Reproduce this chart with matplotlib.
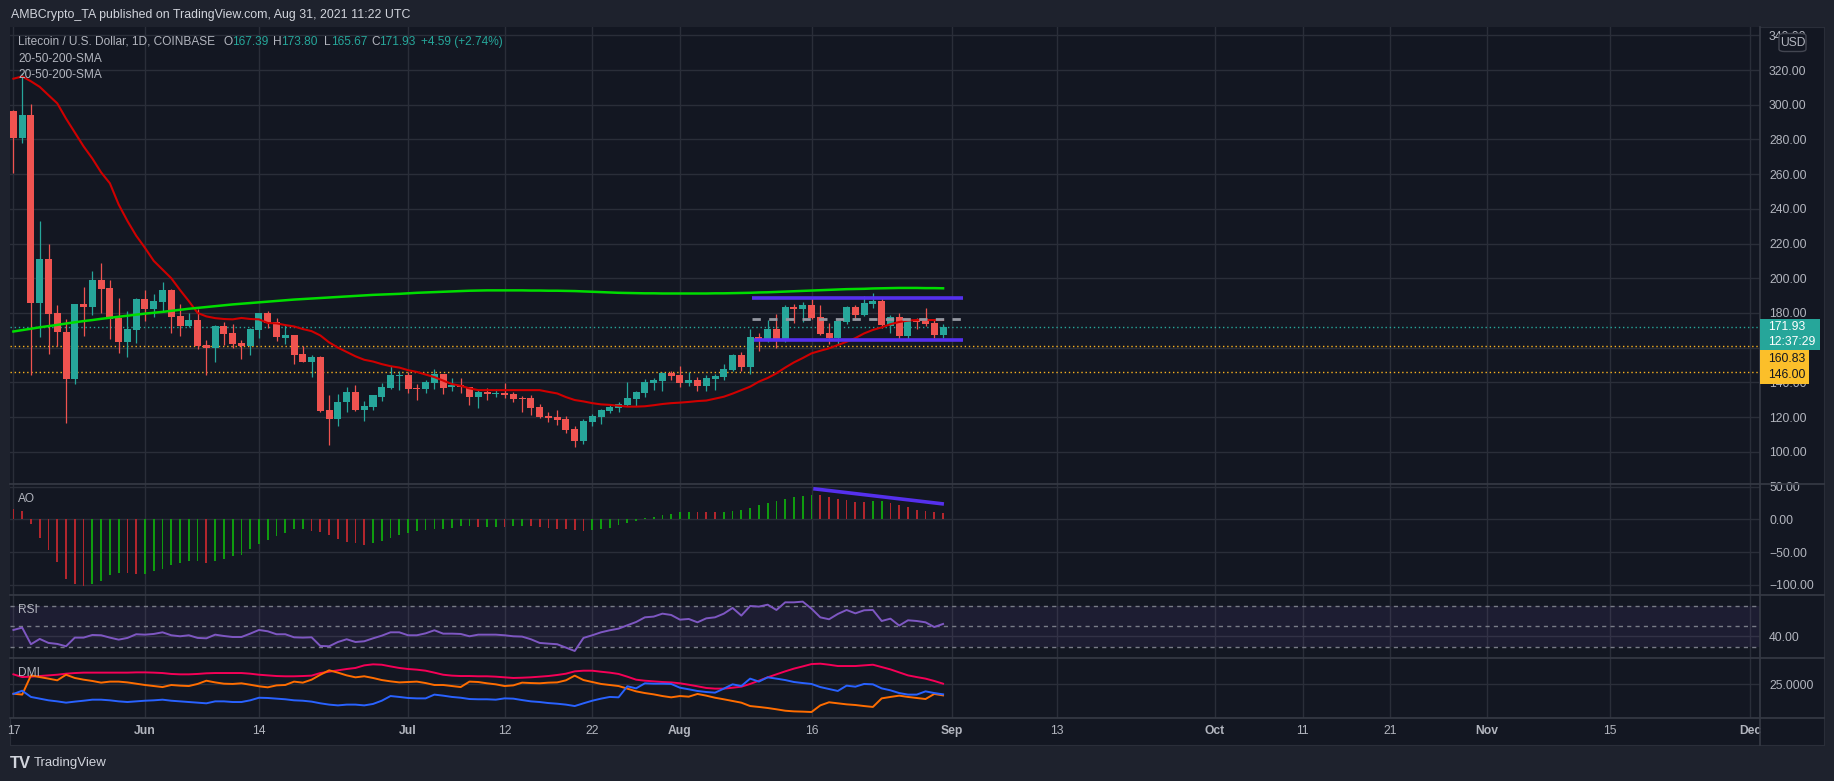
import matplotlib
matplotlib.use('Agg')
import matplotlib.pyplot as plt
import matplotlib.dates as mdates
from matplotlib.patches import Rectangle, FancyBboxPatch
from matplotlib.lines import Line2D
from matplotlib import font_manager as fm
import numpy as np
import pandas as pd

# ---------------- data ----------------
start_date = '2021-05-17'
opens = [296.4, 281.0, 294.1, 185.9, 211.1, 180.0, 169.0, 142.1, 185.1, 183.4,
         199.0, 194.3, 177.3, 163.4, 170.3, 188.0, 182.4, 186.5, 193.2, 178.2,
         172.6, 175.9, 161.5, 160.0, 172.5, 168.4, 162.8, 161.1, 170.3, 180.0,
         174.8, 165.7, 167.1, 156.3, 151.9, 154.8, 124.0, 119.0, 128.8, 134.6,
         124.2, 126.0, 131.7, 136.9, 143.8, 144.2, 137.0, 136.3, 139.8, 144.8,
         137.1, 138.4, 137.3, 131.7, 134.4, 133.4, 133.8, 133.2, 131.0, 131.0,
         125.8, 120.6, 120.0, 118.8, 113.1, 106.3, 117.3, 120.2, 123.6, 125.4,
         127.1, 130.6, 134.0, 139.8, 140.9, 145.4, 144.2, 139.8, 141.3, 138.1,
         142.1, 143.2, 147.1, 155.7, 148.8, 166.1, 164.6, 170.7, 165.1, 183.4,
         182.2, 184.5, 177.6, 168.4, 165.7, 174.8, 183.4, 178.8, 185.1, 186.8,
         172.4, 177.6, 166.7, 175.9, 175.3, 174.2, 167.39]
highs = [297.0, 318.3, 300.4, 233.0, 219.7, 184.4, 176.5, 185.1, 194.9, 204.2,
         208.8, 199.0, 188.6, 181.1, 188.6, 193.2, 190.9, 197.8, 193.8, 185.1,
         180.0, 182.4, 164.6, 173.0, 174.8, 173.6, 164.6, 171.1, 180.0, 181.1,
         177.1, 173.0, 167.1, 161.1, 155.9, 155.4, 132.9, 133.4, 137.5, 138.6,
         129.4, 132.9, 139.8, 149.6, 146.5, 146.1, 138.8, 141.3, 147.7, 144.8,
         142.5, 142.5, 137.3, 135.5, 136.7, 136.1, 139.6, 134.4, 132.1, 132.7,
         127.5, 122.9, 124.0, 120.4, 114.8, 118.8, 121.7, 124.6, 127.5, 128.8,
         140.2, 135.0, 141.9, 142.5, 145.9, 146.5, 149.4, 145.9, 143.0, 144.2,
         144.8, 150.5, 156.3, 157.5, 170.7, 168.4, 175.9, 179.4, 184.5, 185.1,
         186.3, 189.2, 184.5, 174.2, 175.9, 184.0, 184.5, 189.7, 191.5, 188.6,
         178.8, 179.9, 176.5, 177.1, 182.8, 176.5, 173.80]
lows = [260.8, 278.1, 144.4, 166.3, 156.5, 161.1, 116.7, 139.2, 166.9, 179.0,
        180.1, 165.1, 157.1, 154.8, 162.8, 175.5, 177.8, 181.1, 168.6, 166.9,
        172.1, 159.4, 144.4, 151.9, 161.7, 160.0, 153.6, 155.9, 165.7, 171.5,
        164.0, 162.3, 150.7, 151.9, 143.2, 123.1, 104.1, 115.0, 123.1, 123.6,
        117.9, 124.2, 129.4, 136.3, 135.5, 133.6, 129.8, 134.0, 136.3, 133.4,
        135.2, 134.0, 127.1, 125.4, 130.0, 131.7, 131.1, 128.8, 123.1, 121.3,
        119.6, 117.3, 115.6, 111.0, 102.9, 104.6, 115.0, 116.1, 122.5, 123.1,
        126.5, 126.5, 131.7, 135.7, 135.2, 141.3, 137.5, 138.1, 135.2, 135.2,
        135.7, 141.3, 146.5, 146.7, 144.8, 158.2, 163.4, 159.9, 163.4, 174.2,
        174.8, 176.5, 167.3, 162.1, 162.1, 173.6, 175.9, 178.2, 182.8, 171.3,
        168.4, 164.4, 164.4, 170.7, 172.4, 165.5, 165.67]
closes = [281.0, 294.1, 185.9, 211.1, 179.6, 169.2, 142.1, 185.1, 183.4, 199.0,
          194.0, 176.7, 163.4, 170.7, 188.0, 182.4, 186.9, 193.2, 177.8, 172.6,
          175.9, 161.1, 160.0, 172.5, 168.0, 162.3, 161.1, 170.7, 180.0, 174.4,
          166.3, 167.1, 155.9, 151.9, 154.8, 123.6, 119.0, 128.8, 134.6, 124.2,
          126.5, 132.9, 137.5, 144.4, 144.5, 136.3, 136.3, 140.2, 144.8, 136.9,
          138.4, 137.1, 131.7, 134.4, 133.4, 133.7, 132.9, 130.6, 130.6, 125.4,
          120.2, 119.6, 118.5, 112.7, 106.3, 117.7, 120.6, 124.0, 125.8, 127.7,
          131.0, 134.4, 140.2, 141.3, 145.4, 143.6, 139.6, 141.3, 138.1, 142.5,
          143.6, 147.7, 155.7, 148.8, 166.1, 164.6, 170.7, 165.1, 183.4, 182.2,
          184.5, 177.0, 167.8, 165.7, 175.3, 183.4, 178.8, 185.7, 186.8, 173.0,
          177.6, 166.7, 175.9, 174.8, 173.6, 167.34, 171.93]

sma_fast = [315.0, 316.3, 313.5, 310.3, 305.5, 300.8, 292.0, 284.0, 276.0, 269.0,
            261.0, 254.7, 242.5, 233.0, 224.5, 217.5, 210.0, 205.0, 200.0, 193.2,
            186.8, 180.0, 178.0, 177.0, 176.5, 176.3, 177.1, 176.5, 176.3, 174.2,
            174.0, 173.0, 172.2, 170.7, 169.5, 167.0, 163.0, 160.0, 157.5, 155.0,
            153.0, 152.0, 150.5, 149.3, 148.5, 147.0, 146.0, 144.5, 143.0, 141.0,
            139.0, 138.0, 136.5, 135.5, 135.5, 135.5, 135.5, 135.5, 135.5, 135.5,
            135.5, 134.5, 133.6, 131.5, 129.8, 129.0, 128.0, 127.3, 127.0, 126.5,
            126.0, 126.0, 126.2, 126.8, 127.5, 128.0, 128.3, 128.7, 129.2, 129.5,
            130.6, 131.7, 133.5, 135.5, 137.5, 140.4, 142.5, 145.2, 148.5, 151.5,
            154.0, 156.7, 158.2, 159.6, 161.5, 163.4, 165.5, 168.2, 170.2, 171.7,
            173.5, 174.8, 175.6, 175.9, 175.9, 175.9, 175.9]
sma_slow = [169.3, 170.1, 170.9, 171.7, 172.4, 173.1, 173.9, 174.6, 175.3, 175.9,
            176.6, 177.2, 177.8, 178.4, 179.0, 179.6, 180.1, 180.6, 181.2, 181.8,
            182.4, 182.9, 183.4, 183.9, 184.4, 184.9, 185.3, 185.7, 186.1, 186.5,
            186.9, 187.3, 187.7, 188.0, 188.3, 188.6, 188.9, 189.2, 189.5, 189.8,
            190.1, 190.4, 190.6, 190.8, 191.0, 191.3, 191.6, 191.8, 192.0, 192.2,
            192.4, 192.6, 192.8, 192.9, 193.0, 193.0, 193.0, 193.0, 193.0, 192.9,
            192.9, 192.8, 192.8, 192.7, 192.6, 192.4, 192.2, 192.0, 191.8, 191.6,
            191.5, 191.4, 191.3, 191.3, 191.2, 191.2, 191.2, 191.2, 191.2, 191.2,
            191.3, 191.3, 191.4, 191.5, 191.6, 191.8, 191.9, 192.1, 192.3, 192.5,
            192.7, 192.9, 193.1, 193.3, 193.5, 193.7, 193.8, 193.9, 194.1, 194.2,
            194.3, 194.4, 194.4, 194.4, 194.3, 194.3, 194.2]

ao_values = [16.3, 12.8, -6.6, -28.0, -46.4, -65.3, -90.8, -99.5, -101.5, -98.5,
             -94.4, -84.7, -81.6, -82.1, -83.2, -82.9, -79.6, -75.5, -69.4, -66.3,
             -64.5, -64.0, -66.3, -64.3, -60.2, -56.6, -54.1, -44.9, -37.2, -31.1,
             -26.0, -20.4, -15.3, -14.9, -17.9, -19.4, -24.5, -29.6, -34.7, -35.7,
             -38.8, -36.2, -33.2, -28.1, -23.5, -20.9, -18.4, -15.8, -15.5, -14.3,
             -12.8, -10.7, -9.7, -11.5, -11.2, -11.0, -11.3, -10.5, -9.7, -10.0,
             -11.2, -12.8, -14.3, -14.8, -16.3, -17.9, -15.8, -14.3, -12.8, -8.2,
             -5.1, -2.6, 2.6, 4.1, 6.6, 8.2, 11.2, 11.5, 11.3, 11.1,
             10.9, 11.3, 12.8, 14.3, 17.3, 21.9, 25.0, 28.1, 31.1, 34.2,
             35.7, 37.8, 36.7, 34.2, 31.1, 29.6, 26.5, 26.3, 28.1, 28.3,
             25.0, 21.9, 18.9, 14.3, 12.8, 11.2, 9.7]

rsi_values = [46.4, 48.7, 32.4, 37.6, 33.7, 32.7, 30.4, 38.9, 38.9, 41.5,
              41.2, 38.9, 36.9, 38.6, 42.2, 41.8, 42.5, 44.1, 41.2, 40.2,
              41.2, 38.6, 38.2, 41.8, 40.5, 39.5, 39.5, 42.8, 46.4, 45.1,
              42.2, 42.2, 39.2, 38.9, 39.2, 30.7, 30.4, 34.6, 37.3, 34.6,
              35.3, 38.2, 40.8, 44.1, 44.1, 41.2, 41.2, 43.1, 46.1, 42.8,
              42.8, 42.5, 40.2, 41.8, 41.8, 41.8, 41.2, 40.2, 39.9, 37.3,
              33.7, 33.0, 32.4, 29.1, 25.8, 38.6, 41.2, 44.1, 46.1, 47.7,
              51.0, 54.2, 58.8, 59.5, 62.4, 61.1, 56.5, 57.2, 53.9, 57.8,
              58.8, 62.4, 68.0, 60.5, 69.9, 69.3, 71.2, 66.0, 73.5, 73.5,
              74.2, 67.3, 58.8, 56.9, 62.1, 66.0, 62.7, 65.7, 66.0, 55.2,
              57.5, 50.7, 55.9, 55.2, 53.9, 49.3, 52.3]

adx_values = [32.7, 30.6, 30.9, 31.4, 31.9, 32.4, 33.2, 33.7, 34.0, 34.0,
              34.0, 34.0, 34.0, 34.0, 34.2, 34.2, 34.0, 33.7, 33.0, 32.7,
              32.7, 33.0, 33.5, 33.7, 33.7, 33.7, 33.7, 33.2, 32.4, 31.9,
              31.4, 31.2, 31.2, 31.4, 31.7, 33.7, 34.7, 35.8, 36.8, 37.6,
              39.6, 40.4, 40.1, 38.8, 37.6, 36.8, 36.3, 35.5, 34.0, 32.4,
              31.7, 31.4, 31.4, 31.2, 31.2, 30.9, 30.4, 29.9, 30.1, 30.4,
              30.9, 31.4, 32.2, 33.2, 35.0, 35.5, 35.5, 34.7, 34.0, 33.0,
              30.9, 28.6, 27.8, 27.3, 26.8, 26.5, 25.8, 24.7, 23.5, 22.2,
              21.7, 21.7, 22.4, 23.2, 25.3, 27.8, 30.4, 32.7, 35.0, 37.1,
              38.8, 40.6, 40.9, 40.1, 39.1, 39.1, 39.1, 39.6, 40.1, 38.3,
              36.5, 34.2, 31.9, 30.6, 29.4, 27.6, 25.5]
minus_di = [17.8, 17.1, 31.9, 30.6, 29.4, 28.1, 32.4, 29.9, 28.6, 27.6,
            26.3, 27.1, 27.1, 26.5, 25.5, 24.5, 23.7, 22.9, 24.5, 24.0,
            23.7, 25.3, 27.8, 26.5, 25.5, 25.3, 25.8, 24.7, 23.5, 22.7,
            24.2, 24.5, 27.1, 26.3, 28.6, 32.4, 35.8, 34.0, 31.9, 30.4,
            31.2, 29.9, 28.3, 27.3, 26.5, 26.8, 27.1, 26.0, 24.5, 24.5,
            23.7, 22.9, 27.1, 26.8, 25.8, 25.0, 23.7, 24.2, 26.3, 26.0,
            25.8, 26.3, 26.5, 28.1, 31.7, 28.3, 26.8, 25.3, 24.5, 23.7,
            21.7, 19.6, 18.3, 17.3, 16.0, 15.0, 16.0, 15.5, 17.6, 16.3,
            14.7, 13.5, 12.2, 10.9, 8.3, 7.6, 6.8, 5.8, 4.7, 4.2,
            4.0, 3.7, 8.8, 11.2, 10.4, 9.6, 9.1, 8.3, 7.6, 14.2,
            15.3, 16.3, 15.3, 14.5, 13.7, 17.6, 16.5]
plus_di = [17.6, 20.1, 15.3, 14.0, 12.7, 11.9, 10.9, 11.7, 12.4, 13.2,
           13.2, 12.7, 11.9, 11.4, 11.9, 12.4, 12.7, 13.2, 12.4, 11.9,
           11.4, 10.9, 10.4, 11.9, 11.9, 11.4, 11.4, 12.7, 14.7, 14.5,
           14.0, 13.5, 12.7, 12.4, 11.7, 10.4, 9.4, 8.8, 9.4, 9.4,
           8.8, 9.9, 12.4, 16.0, 15.3, 14.5, 14.2, 14.2, 17.1, 16.3,
           15.3, 14.7, 13.7, 13.5, 13.5, 13.2, 14.2, 14.0, 12.9, 11.9,
           11.4, 10.6, 10.1, 9.4, 8.3, 10.4, 12.4, 14.0, 15.3, 15.0,
           23.5, 21.9, 25.8, 25.5, 25.5, 25.3, 22.4, 21.2, 19.9, 19.1,
           18.6, 21.7, 25.0, 23.7, 29.4, 27.1, 30.4, 29.4, 28.3, 26.8,
           26.0, 25.3, 22.9, 21.4, 19.9, 24.0, 23.2, 25.3, 25.0, 21.9,
           20.4, 18.3, 17.1, 17.1, 19.6, 18.3, 17.3]

# drawings (price levels / trend line endpoints, in days from start)
range_top = 188.6
range_bottom = 164.6
range_mid = 176.5
range_start_top, range_start_bottom, range_end = 84.2, 84.5, 108.3
last_price = 171.93
countdown = '12:37:29'
support_levels = [160.83, 146.00]
ao_trend_x = [91.2, 106.1]
ao_trend_y = [46.8, 23.4]

tick_dates = ['2021-05-17', '2021-06-01', '2021-06-14', '2021-07-01', '2021-07-12',
              '2021-07-22', '2021-08-01', '2021-08-16', '2021-09-01', '2021-09-13',
              '2021-10-01', '2021-10-11', '2021-10-21', '2021-11-01', '2021-11-15',
              '2021-12-01']
tick_labels = ['17', 'Jun', '14', 'Jul', '12', '22', 'Aug', '16', 'Sep', '13',
               'Oct', '11', '21', 'Nov', '15', 'Dec']
price_ticks = [100, 120, 140, 160, 180, 200, 220, 240, 260, 280, 300, 320, 340]
price_hidden_labels = [160]
ao_ticks = [-100, -50, 0, 50]
rsi_ticks = [40]
dmi_ticks = [25]

# ---------------- style ----------------
def has_font(name):
    try:
        fm.findfont(fm.FontProperties(family=name), fallback_to_default=False)
        return True
    except Exception:
        return False

FONT = 'Liberation Sans Narrow' if has_font('Liberation Sans Narrow') else 'Liberation Sans'
NARROW = FONT == 'Liberation Sans Narrow'
plt.rcParams['font.family'] = [FONT, 'DejaVu Sans']

W, H = 1834, 781
BG_OUT = '#1e222d'
BG = '#131722'
GRID = '#2a2e39'
SEP = '#363a45'
TXT = '#b2b5be'
UP = '#26a69a'
DOWN = '#ef5350'
FS = 9.5 if NARROW else 8.7      # axis / label text
FS_LEG = 9.5 if NARROW else 8.6  # legend text
FS_HEAD = 10 if NARROW else 8.9

fig = plt.figure(figsize=(W / 100, H / 100), dpi=100)
fig.patch.set_facecolor(BG_OUT)


def rect(x0, y0, x1, y1):
    return [x0 / W, 1 - y1 / H, (x1 - x0) / W, (y1 - y0) / H]


def fy(py):
    return 1 - py / H


# background frame
bg = fig.add_axes(rect(10, 27, 1824, 745), zorder=-10)
bg.set_facecolor(BG)
bg.set_xticks([])
bg.set_yticks([])
for s in bg.spines.values():
    s.set_color(GRID)

dates = pd.date_range(start_date, periods=len(closes), freq='D')
x = mdates.date2num(dates)
x0 = x[0]
xlim = (x0 - 0.39, x0 + 199.15)
xticks = mdates.date2num(pd.to_datetime(tick_dates))

o = np.array(opens)
h = np.array(highs)
l = np.array(lows)
c = np.array(closes)


def base(ax, ylim, yticks, fmt, hidden=()):
    ax.set_facecolor(BG)
    for s in ax.spines.values():
        s.set_visible(False)
    ax.set_xlim(*xlim)
    ax.set_ylim(*ylim)
    ax.set_xticks(xticks)
    ax.set_xticklabels([])
    ax.set_yticks(yticks)
    ax.set_yticklabels(['' if v in hidden else fmt(v) for v in yticks])
    ax.yaxis.tick_right()
    ax.tick_params(axis='both', length=0, colors=TXT, labelsize=FS)
    ax.tick_params(axis='y', pad=6.5)
    ax.grid(True, color=GRID, lw=1)
    ax.set_axisbelow(True)


def money(v):
    s = f'{abs(v):.2f}'
    return ('\u2212' + s) if v < 0 else s


# ---- price panel ----
ax = fig.add_axes(rect(10, 27, 1760, 484))
base(ax, (81.4, 344.8), price_ticks, money, price_hidden_labels)
cols = np.where(c >= o, UP, DOWN)
ax.vlines(x, l, h, colors=cols, lw=0.9, zorder=2)
ax.bar(x, np.maximum(np.abs(c - o), 0.5), bottom=np.minimum(o, c), width=0.8,
       color=cols, lw=0, zorder=2)
ax.plot(x, sma_fast, color='#d00000', lw=1.5, zorder=3)
ax.plot(x, sma_slow, color='#00dd00', lw=1.8, zorder=3)
ax.axhline(last_price, color=UP, lw=1, ls=(0, (1, 2)), zorder=1)
for lv in support_levels:
    ax.axhline(lv, color='#f9b21f', lw=1, ls=(0, (1, 2)), zorder=1)
ax.hlines(range_top, x0 + range_start_top, x0 + range_end, color='#5530ee', lw=2.6, zorder=4)
ax.hlines(range_bottom, x0 + range_start_bottom, x0 + range_end, color='#5530ee', lw=2.6, zorder=4)
ax.hlines(range_mid, x0 + range_start_top, x0 + range_end, color='#9598a1', lw=2,
          ls=(0, (3, 3)), zorder=4)

# ---- AO panel ----
ax2 = fig.add_axes(rect(10, 484, 1760, 595.3))
base(ax2, (-116.2, 54.0), ao_ticks, money)
ao = np.array(ao_values)
ao_cols = ['#b2262d'] + ['#0f9b0f' if ao[i] > ao[i - 1] else '#b2262d' for i in range(1, len(ao))]
ax2.bar(x, ao, width=0.2, color=ao_cols, lw=0, zorder=2)
ax2.plot(x0 + np.array(ao_trend_x), ao_trend_y, color='#5530ee', lw=2.6, zorder=3,
         solid_capstyle='butt')

# ---- RSI panel ----
ax3 = fig.add_axes(rect(10, 595.3, 1760, 657.7))
base(ax3, (19.2, 80.4), rsi_ticks, money)
ax3.axhspan(30, 70, color='#7e57c2', alpha=0.1, lw=0)
for lv in (70, 50, 30):
    ax3.axhline(lv, color='#787b86', lw=1, ls=(0, (3, 3)))
ax3.plot(x, rsi_values, color='#7e57c2', lw=1.4, zorder=3)

# ---- DMI panel ----
ax4 = fig.add_axes(rect(10, 657.7, 1760, 718))
base(ax4, (-0.9, 45.5), dmi_ticks, lambda v: f'{v:.4f}')
ax4.plot(x, adx_values, color='#f50057', lw=1.4, zorder=3)
ax4.plot(x, minus_di, color='#ff6d00', lw=1.4, zorder=3)
ax4.plot(x, plus_di, color='#2962ff', lw=1.4, zorder=3)
ax4.set_xticklabels(tick_labels)
ax4.tick_params(axis='x', pad=5, labelsize=FS, colors=TXT)
for lab in ax4.get_xticklabels():
    if lab.get_text().isalpha():
        lab.set_fontweight('bold')

# ---- separators ----
for yy in (484, 595.3, 657.7, 718):
    fig.add_artist(Line2D([10 / W, 1824 / W], [fy(yy), fy(yy)], color=SEP, lw=1.2))
fig.add_artist(Line2D([1760 / W, 1760 / W], [fy(27), fy(745)], color=SEP, lw=1.2))

# ---- price labels on axis ----
fig.add_artist(Rectangle((1760 / W, fy(350)), 60 / W, 31 / H, facecolor=UP,
                         edgecolor='none', zorder=5))
fig.text(1768 / W, fy(327.5), f'{last_price:.2f}', color='white', fontsize=FS,
         va='center', ha='left', zorder=6)
fig.text(1768 / W, fy(341.5), countdown, color='white', fontsize=FS,
         va='center', ha='left', zorder=6)
fig.add_artist(Rectangle((1760 / W, fy(383.5)), 49 / W, 33.5 / H, facecolor='#fbbf2a',
                         edgecolor='none', zorder=5))
fig.text(1768 / W, fy(358.5), f'{support_levels[0]:.2f}', color='#131722', fontsize=FS,
         va='center', ha='left', zorder=6)
fig.text(1768 / W, fy(375), f'{support_levels[1]:.2f}', color='#131722', fontsize=FS,
         va='center', ha='left', zorder=6)
fig.add_artist(FancyBboxPatch((1779 / W, fy(51.5)), 27 / W, 18 / H,
                              boxstyle='round,pad=0,rounding_size=0.003',
                              facecolor=BG, edgecolor='#434651', lw=1, zorder=5))
fig.text(1792.5 / W, fy(42.5), 'USD', color=TXT, fontsize=FS, va='center', ha='center', zorder=6)

# ---- header / legends ----
fig.text(11 / W, fy(15), 'AMBCrypto_TA published on TradingView.com, Aug 31, 2021 11:22 UTC',
         color='#d1d4dc', fontsize=FS_HEAD, va='center', ha='left')
chg = closes[-1] - closes[-2]
pct = (closes[-1] / closes[-2] - 1) * 100
legend_parts = [
    (18, 'Litecoin / U.S. Dollar, 1D, COINBASE', TXT),
    (223, 'O', TXT), (232, f'{opens[-1]:.2f}', UP),
    (273, 'H', TXT), (281, f'{highs[-1]:.2f}', UP),
    (324, 'L', TXT), (331, f'{lows[-1]:.2f}', UP),
    (371, 'C', TXT), (379, f'{closes[-1]:.2f}', UP),
    (421, f'+{chg:.2f} (+{pct:.2f}%)', UP),
]
for px, s, col in legend_parts:
    fig.text(px / W, fy(42), s, color=col, fontsize=FS_LEG, va='center', ha='left')
fig.text(18 / W, fy(59), '20-50-200-SMA', color=TXT, fontsize=FS_LEG, va='center', ha='left')
fig.text(18 / W, fy(75), '20-50-200-SMA', color=TXT, fontsize=FS_LEG, va='center', ha='left')
fig.text(18 / W, fy(499), 'AO', color=TXT, fontsize=FS_LEG, va='center', ha='left')
fig.text(18 / W, fy(610), 'RSI', color=TXT, fontsize=FS_LEG, va='center', ha='left')
fig.text(18 / W, fy(673), 'DMI', color=TXT, fontsize=FS_LEG, va='center', ha='left')

# ---- footer ----
fig.text(10 / W, fy(763), 'TV', color='#d1d4dc', fontsize=12, fontweight='bold',
         va='center', ha='left')
fig.text(34 / W, fy(763), 'TradingView', color='#d1d4dc', fontsize=9.5,
         va='center', ha='left')

fig.savefig('out.png', dpi=100, facecolor=fig.get_facecolor())
